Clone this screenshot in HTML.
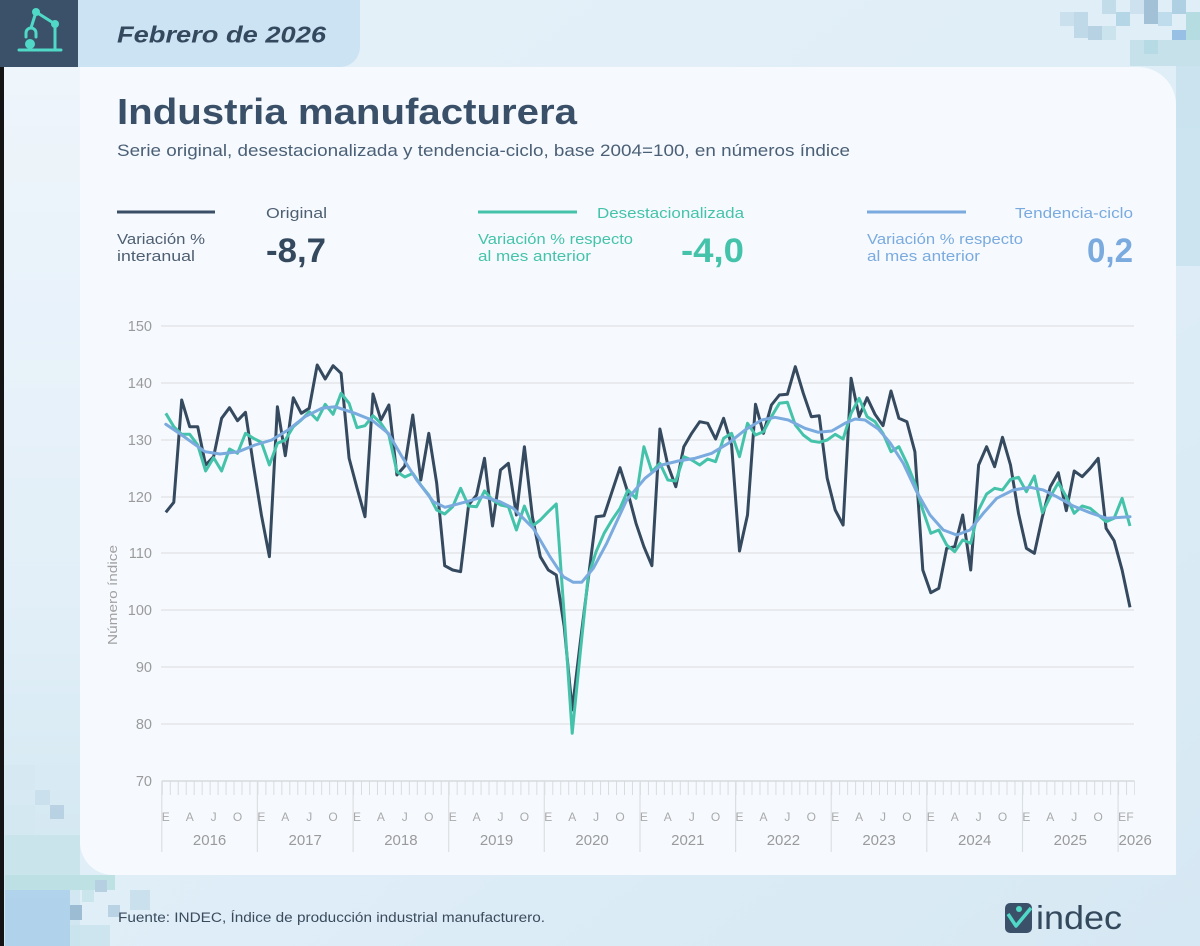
<!DOCTYPE html>
<html><head><meta charset="utf-8"><style>
html,body{margin:0;padding:0;width:1200px;height:946px;overflow:hidden;background:#dcebf5;}
svg{display:block;font-family:"Liberation Sans",sans-serif;}
</style></head><body>
<svg width="1200" height="946" viewBox="0 0 1200 946" xmlns="http://www.w3.org/2000/svg">
<defs>
<linearGradient id="bg" x1="0" y1="0" x2="1" y2="1">
<stop offset="0" stop-color="#e6f1f9"/><stop offset="0.6" stop-color="#deedf7"/><stop offset="1" stop-color="#d6e8f3"/>
</linearGradient>
<linearGradient id="lft" x1="0" y1="0" x2="0" y2="1">
<stop offset="0" stop-color="#eef5fb"/><stop offset="0.6" stop-color="#e2eff8"/><stop offset="1" stop-color="#cfe6f0"/>
</linearGradient>
<pattern id="tk" x="161.8" y="781" width="7.969" height="14" patternUnits="userSpaceOnUse">
<rect x="0" y="0" width="1" height="14" fill="#d9dcdf"/>
</pattern>
</defs>
<rect width="1200" height="946" fill="url(#bg)"/>
<rect x="0" y="67" width="80" height="879" fill="url(#lft)"/>
<!-- mosaic top-right -->
<g opacity="0.75">
<rect x="1060" y="12" width="14" height="14" fill="#c4dcea"/>
<rect x="1074" y="12" width="14" height="26" fill="#b6d2e4"/>
<rect x="1088" y="26" width="14" height="14" fill="#a9c9dd"/>
<rect x="1102" y="0" width="14" height="14" fill="#b8d6e6"/>
<rect x="1102" y="26" width="14" height="14" fill="#c5e0ea"/>
<rect x="1116" y="12" width="14" height="14" fill="#a6cfe0"/>
<rect x="1130" y="0" width="14" height="14" fill="#c7dfec"/>
<rect x="1144" y="0" width="14" height="24" fill="#8fb3cc"/>
<rect x="1158" y="12" width="14" height="14" fill="#b3d6e8"/>
<rect x="1172" y="0" width="14" height="14" fill="#9fc6dc"/>
<rect x="1172" y="30" width="14" height="14" fill="#7fb2de"/>
<rect x="1186" y="12" width="14" height="30" fill="#a8d6da"/>
<rect x="1130" y="40" width="70" height="26" fill="#bfdde8"/>
<rect x="1144" y="40" width="14" height="14" fill="#a9d5e0"/>
<rect x="1176" y="66" width="24" height="200" fill="#c4e0ec"/>
</g>
<!-- mosaic bottom-left -->
<g opacity="0.8">
<rect x="5" y="765" width="30" height="25" fill="#d6e9f2"/>
<rect x="35" y="790" width="15" height="15" fill="#c7e0ec"/>
<rect x="50" y="805" width="14" height="14" fill="#b3cde0"/>
<rect x="5" y="805" width="30" height="30" fill="#d3e8f0"/>
<rect x="5" y="835" width="75" height="40" fill="#c7e4ea"/>
<rect x="5" y="875" width="110" height="15" fill="#b7dfe0"/>
<rect x="5" y="890" width="65" height="56" fill="#a9cfea"/>
<rect x="70" y="905" width="12" height="15" fill="#8fb2cc"/>
<rect x="82" y="890" width="12" height="12" fill="#c5e4ea"/>
<rect x="95" y="880" width="12" height="12" fill="#adc8dc"/>
<rect x="70" y="925" width="40" height="21" fill="#c9e4ee"/>
<rect x="108" y="905" width="12" height="12" fill="#b2cde0"/>
<rect x="130" y="890" width="20" height="20" fill="#c6dcea"/>
</g>
<rect x="0" y="67" width="4" height="879" fill="#141414"/>
<!-- header -->
<rect x="0" y="0" width="78" height="67" fill="#3b5169"/>
<path d="M78,0 H360 V47 A20,20 0 0 1 340,67 H78 Z" fill="#cce3f3"/>
<g stroke="#4fd9c6" stroke-width="3" fill="none" stroke-linecap="round">
<line x1="19" y1="50" x2="61" y2="50"/>
<line x1="55" y1="24" x2="55" y2="50"/>
<line x1="36" y1="12" x2="55" y2="24"/>
<line x1="36" y1="12" x2="31" y2="28"/>
<path d="M26,37 V33 A5,5 0 0 1 36,33 V37"/>
</g>
<g fill="#4fd9c6"><circle cx="36" cy="12" r="4"/><circle cx="55" cy="24" r="4"/><circle cx="30" cy="44" r="5"/></g>
<text x="117" y="42.5" font-size="23" font-weight="bold" font-style="italic" fill="#34495e" textLength="209" lengthAdjust="spacingAndGlyphs">Febrero de 2026</text>
<!-- card -->
<path d="M80,67 H1138 A38,38 0 0 1 1176,105 V875 H113 A33,33 0 0 1 80,842 Z" fill="#f6faff"/>
<text x="117" y="124" font-size="36" font-weight="bold" fill="#3a5068" textLength="460" lengthAdjust="spacingAndGlyphs">Industria manufacturera</text>
<text x="117" y="156" font-size="16.5" fill="#4b6076" textLength="733" lengthAdjust="spacingAndGlyphs">Serie original, desestacionalizada y tendencia-ciclo, base 2004=100, en números índice</text>
<!-- legend -->
<line x1="117" y1="212" x2="215" y2="212" stroke="#3a4f66" stroke-width="3"/>
<text x="266" y="218" font-size="15" fill="#4e5f72" textLength="61" lengthAdjust="spacingAndGlyphs">Original</text>
<text x="117" y="244" font-size="15" fill="#4e5f72" textLength="88" lengthAdjust="spacingAndGlyphs">Variación %</text>
<text x="117" y="261" font-size="15" fill="#4e5f72" textLength="78" lengthAdjust="spacingAndGlyphs">interanual</text>
<text x="266" y="262" font-size="34" font-weight="bold" fill="#34495e" textLength="60" lengthAdjust="spacingAndGlyphs">-8,7</text>
<line x1="478" y1="212" x2="577" y2="212" stroke="#45c3aa" stroke-width="3"/>
<text x="597" y="218" font-size="15" fill="#45c3aa" textLength="147" lengthAdjust="spacingAndGlyphs">Desestacionalizada</text>
<text x="478" y="244" font-size="15" fill="#45c3aa" textLength="155" lengthAdjust="spacingAndGlyphs">Variación % respecto</text>
<text x="478" y="261" font-size="15" fill="#45c3aa" textLength="113" lengthAdjust="spacingAndGlyphs">al mes anterior</text>
<text x="681" y="262" font-size="34" font-weight="bold" fill="#45c3aa" textLength="63" lengthAdjust="spacingAndGlyphs">-4,0</text>
<line x1="867" y1="212" x2="966" y2="212" stroke="#7aaade" stroke-width="3"/>
<text x="1015" y="218" font-size="15" fill="#7aaade" textLength="118" lengthAdjust="spacingAndGlyphs">Tendencia-ciclo</text>
<text x="867" y="244" font-size="15" fill="#7aaade" textLength="156" lengthAdjust="spacingAndGlyphs">Variación % respecto</text>
<text x="867" y="261" font-size="15" fill="#7aaade" textLength="113" lengthAdjust="spacingAndGlyphs">al mes anterior</text>
<text x="1087" y="262" font-size="34" font-weight="bold" fill="#7aaade" textLength="46" lengthAdjust="spacingAndGlyphs">0,2</text>
<!-- grid -->
<g stroke="#e3e5e8" stroke-width="1.5">
<line x1="161" y1="326" x2="1134" y2="326"/>
<line x1="161" y1="383" x2="1134" y2="383"/>
<line x1="161" y1="440" x2="1134" y2="440"/>
<line x1="161" y1="497" x2="1134" y2="497"/>
<line x1="161" y1="553" x2="1134" y2="553"/>
<line x1="161" y1="610" x2="1134" y2="610"/>
<line x1="161" y1="667" x2="1134" y2="667"/>
<line x1="161" y1="724" x2="1134" y2="724"/>
</g>
<g font-size="14.5" fill="#9a9a9a" text-anchor="end">
<text x="152" y="331">150</text><text x="152" y="388">140</text><text x="152" y="445">130</text>
<text x="152" y="502">120</text><text x="152" y="558">110</text><text x="152" y="615">100</text>
<text x="152" y="672">90</text><text x="152" y="729">80</text><text x="152" y="786">70</text>
</g>
<text transform="translate(117,595) rotate(-90)" font-size="13" fill="#a0a0a0" text-anchor="middle" textLength="100" lengthAdjust="spacingAndGlyphs">Número índice</text>
<!-- x axis -->
<rect x="161.8" y="781" width="973" height="14" fill="url(#tk)"/>
<line x1="161.8" y1="781" x2="1134.5" y2="781" stroke="#d6d9dc" stroke-width="1.5"/>
<g stroke="#dcdfe2" stroke-width="1.2">
<line x1="161.8" y1="781" x2="161.8" y2="852"/><line x1="257.4" y1="781" x2="257.4" y2="852"/>
<line x1="353.1" y1="781" x2="353.1" y2="852"/><line x1="448.7" y1="781" x2="448.7" y2="852"/>
<line x1="544.3" y1="781" x2="544.3" y2="852"/><line x1="640" y1="781" x2="640" y2="852"/>
<line x1="735.6" y1="781" x2="735.6" y2="852"/><line x1="831.2" y1="781" x2="831.2" y2="852"/>
<line x1="926.8" y1="781" x2="926.8" y2="852"/><line x1="1022.5" y1="781" x2="1022.5" y2="852"/>
<line x1="1118.1" y1="781" x2="1118.1" y2="852"/>
</g>
<g font-size="12" fill="#a9a9a9" text-anchor="middle">
<text x="165.8" y="821">E</text><text x="189.7" y="821">A</text><text x="213.6" y="821">J</text><text x="237.5" y="821">O</text>
<text x="261.4" y="821">E</text><text x="285.3" y="821">A</text><text x="309.2" y="821">J</text><text x="333.1" y="821">O</text>
<text x="357.0" y="821">E</text><text x="380.9" y="821">A</text><text x="404.8" y="821">J</text><text x="428.8" y="821">O</text>
<text x="452.7" y="821">E</text><text x="476.6" y="821">A</text><text x="500.5" y="821">J</text><text x="524.4" y="821">O</text>
<text x="548.3" y="821">E</text><text x="572.2" y="821">A</text><text x="596.1" y="821">J</text><text x="620.0" y="821">O</text>
<text x="643.9" y="821">E</text><text x="667.8" y="821">A</text><text x="691.7" y="821">J</text><text x="715.6" y="821">O</text>
<text x="739.5" y="821">E</text><text x="763.5" y="821">A</text><text x="787.4" y="821">J</text><text x="811.3" y="821">O</text>
<text x="835.2" y="821">E</text><text x="859.1" y="821">A</text><text x="883.0" y="821">J</text><text x="906.9" y="821">O</text>
<text x="930.8" y="821">E</text><text x="954.7" y="821">A</text><text x="978.6" y="821">J</text><text x="1002.5" y="821">O</text>
<text x="1026.4" y="821">E</text><text x="1050.3" y="821">A</text><text x="1074.2" y="821">J</text><text x="1098.2" y="821">O</text>
<text x="1122.1" y="821">E</text><text x="1130.0" y="821">F</text>
</g>
<g font-size="15" fill="#9a9a9a" text-anchor="middle">
<text x="209.6" y="845">2016</text><text x="305.2" y="845">2017</text><text x="400.9" y="845">2018</text>
<text x="496.5" y="845">2019</text><text x="592.1" y="845">2020</text><text x="687.8" y="845">2021</text>
<text x="783.4" y="845">2022</text><text x="879.0" y="845">2023</text><text x="974.7" y="845">2024</text>
<text x="1070.3" y="845">2025</text><text x="1118.5" y="845" text-anchor="start">2026</text>
</g>
<!-- series -->
<polyline fill="none" stroke="#35495f" stroke-width="3" stroke-linejoin="round" points="165.8,512.3 173.8,502.3 181.7,400 189.7,426.7 197.7,426.7 205.6,465 213.6,456.7 221.6,418.3 229.5,407.7 237.5,420.7 245.5,412.3 253.4,465 261.4,515 269.4,556.7 277.4,406.7 285.3,455.7 293.3,397.7 301.3,413.3 309.2,408.3 317.2,365 325.2,379 333.1,365.7 341.1,373.3 349.1,458.3 357.0,488 365.0,516.7 373.0,394 380.9,420 388.9,405 396.9,475 404.8,466 412.8,415 420.8,480 428.8,433.3 436.7,483.3 444.7,565.7 452.7,570 460.6,571.7 468.6,505 476.6,495 484.5,458.3 492.5,526 500.5,470 508.4,463.3 516.4,515 524.4,446.7 532.4,516.7 540.3,556.7 548.3,570 556.3,575 564.2,626.7 572.2,710 580.2,643 588.1,580 596.1,516.7 604.1,515.7 612.0,491.7 620.0,467.7 628.0,493 636.0,523.3 643.9,546.7 651.9,565.7 659.9,429 667.8,465 675.8,486.7 683.8,446.7 691.7,433.3 699.7,421.7 707.7,423.3 715.6,439 723.6,418.3 731.6,445 739.5,551 747.5,515 755.5,404.3 763.5,433.3 771.4,405 779.4,395 787.4,394.3 795.3,366.7 803.3,393.3 811.3,416.7 819.2,415.7 827.2,478.3 835.2,510 843.1,525 851.1,378.3 859.1,416.7 867.1,397.7 875.0,414.3 883.0,425.7 891.0,391 898.9,418.3 906.9,421.7 914.9,451.7 922.8,570 930.8,592.7 938.8,588.3 946.7,548.3 954.7,546.7 962.7,515 970.7,570 978.6,465 986.6,446.7 994.6,466.7 1002.5,437.3 1010.5,465 1018.5,513.3 1026.4,548.3 1034.4,553.3 1042.4,516.7 1050.3,486.7 1058.3,472.7 1066.3,510.7 1074.2,471 1082.2,476.7 1090.2,468.3 1098.2,458.3 1106.1,528.3 1114.1,540.7 1122.1,570 1130.0,607.3"/>
<polyline fill="none" stroke="#45c3aa" stroke-width="3" stroke-linejoin="round" points="165.8,413.3 173.8,426.7 181.7,434.3 189.7,434.3 197.7,445 205.6,471 213.6,457.7 221.6,471 229.5,449 237.5,453.3 245.5,433.3 253.4,438.3 261.4,442.3 269.4,465 277.4,443.3 285.3,440 293.3,426.7 301.3,420 309.2,411.7 317.2,420 325.2,404.3 333.1,414.3 341.1,393.3 349.1,403.3 357.0,427.7 365.0,425.7 373.0,415.7 380.9,423.3 388.9,435 396.9,471.7 404.8,477 412.8,473.3 420.8,485 428.8,495 436.7,510 444.7,514 452.7,506.7 460.6,488.3 468.6,506 476.6,506.7 484.5,491 492.5,500 500.5,505 508.4,506.7 516.4,530 524.4,506 532.4,526 540.3,520 548.3,511.7 556.3,504 564.2,615 572.2,733.3 580.2,653.3 588.1,576.7 596.1,551.7 604.1,533.3 612.0,520 620.0,508.3 628.0,490 636.0,498.3 643.9,446.7 651.9,471.7 659.9,463.3 667.8,480 675.8,481 683.8,456.7 691.7,460 699.7,465 707.7,459 715.6,461.7 723.6,438.3 731.6,433.3 739.5,456.7 747.5,423.3 755.5,435 763.5,431.7 771.4,416.7 779.4,403.3 787.4,402.3 795.3,425 803.3,435 811.3,441 819.2,442.3 827.2,440 835.2,434.3 843.1,439 851.1,413.3 859.1,398.3 867.1,416.7 875.0,421.7 883.0,433.3 891.0,451.7 898.9,446.7 906.9,463.3 914.9,483.3 922.8,510 930.8,533.3 938.8,530 946.7,545 954.7,551.7 962.7,540 970.7,543.3 978.6,510 986.6,494 994.6,488.3 1002.5,490 1010.5,479.3 1018.5,477.3 1026.4,491.7 1034.4,476 1042.4,512.7 1050.3,496.7 1058.3,482.7 1066.3,496.7 1074.2,513.3 1082.2,506 1090.2,508.3 1098.2,515 1106.1,521.7 1114.1,518.3 1122.1,498.3 1130.0,526"/>
<polyline fill="none" stroke="#7aaade" stroke-width="3" stroke-linejoin="round" stroke-linecap="round" points="165.8,424.3 181.7,435 205,451.7 220,454 238.3,451.7 255,445 271.7,440 288,430 305,416.7 321.7,408.3 335,406.7 355,413.3 371.7,420 388.3,433.3 402,456.7 416.7,480 433.3,501.7 445,507.3 466.7,501.7 483.3,496.7 500,501.7 513.3,508.3 533.3,528.3 550,556.7 563.3,576.7 573.3,582.3 581.7,582.3 593.3,568.3 606.7,543.3 626.7,500 645,478.3 661.7,465 678.3,461 695,458.3 711.7,453.3 728.3,443.3 745,430 761.7,420 775,417.3 788.3,420 805,428.3 818.3,432.3 831.7,431 845,423.3 855,419 865,420 878.3,429 890,442.7 903.3,463.3 916.7,491.7 930,515 943.3,530 956.7,535 970,530 983.3,513.3 996.7,498.3 1013.3,490 1030,487.3 1043.3,490 1056.7,496.7 1073.3,506 1090,512.7 1106.7,518.3 1130,516.7"/>
<!-- footer -->
<text x="118" y="922" font-size="13.5" fill="#3b4b5c" textLength="427" lengthAdjust="spacingAndGlyphs">Fuente: INDEC, Índice de producción industrial manufacturero.</text>
<rect x="1005" y="903" width="27" height="30" rx="5" fill="#3b5169"/>
<circle cx="1019" cy="909" r="3" fill="#4fd9c6"/>
<path d="M1008,914 L1016,926 L1031,908" stroke="#4fd9c6" stroke-width="3.5" fill="none" stroke-linejoin="round"/>
<text x="1036" y="929" font-size="33" fill="#34495e" textLength="86" lengthAdjust="spacingAndGlyphs">indec</text>
</svg>
</body></html>
